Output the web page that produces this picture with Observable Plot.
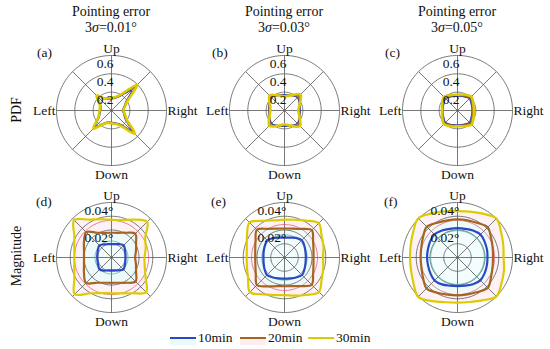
<!DOCTYPE html>
<html><head><meta charset="utf-8">
<script src="https://cdn.jsdelivr.net/npm/d3@7"></script>
<script src="https://cdn.jsdelivr.net/npm/@observablehq/plot@0.6"></script>
<style>
body{margin:0;background:#fff;}
#fig{position:relative;width:550px;height:349px;font-family:"Liberation Serif","Times New Roman",serif;color:#111;overflow:hidden;background:#fff}
.t{position:absolute;white-space:nowrap;line-height:1}
.panel{position:absolute}
.panel svg{overflow:visible}
</style></head><body><div id="fig"></div>
<script>
// ---------- data ----------
const angles = [0,15,30,45,60,75,90,105,120,135,150,165,180,195,210,225,240,255,270,285,300,315,330,345]; // deg, 0 = Right, counter-clockwise
const directionNames = ["Right","Up","Left","Down"];
const directionAngles = [0,90,180,270];
const spokeAngles = [0,45,90,135,180,225,270,315];
const seriesNames = ["10min","20min","30min"];
const seriesColors = ["#2b47c4","#a6641e","#dccb00"];
const seriesFills = ["#f4fdfd","#eefafa","#fef2f6"];
const columnErrors = ["0.01°","0.03°","0.05°"];
const panelLetters = ["(a)","(b)","(c)","(d)","(e)","(f)"];
const rowLabels = ["PDF","Magnitude"];
const pdfRings = [0.2,0.4,0.6];
const pdfTickLabels = ["0.2","0.4","0.6"];
const magRings = [0.01,0.02,0.03,0.04];
const magLabeledRings = [0.02,0.04];
const magTickLabels = ["0.02°","0.04°"];
const refTeal = [0.012,0.0165,0.0195];
const refPink = [0.027,0.024,0.027];

// PDF (top row)
const pdf_a_10 = [0.12,0.14,0.18,0.31,0.18,0.14,0.13,0.13,0.15,0.21,0.14,0.12,0.12,0.13,0.16,0.25,0.16,0.13,0.13,0.14,0.17,0.31,0.17,0.14];
const pdf_a_20 = [0.13,0.15,0.19,0.37,0.19,0.15,0.13,0.14,0.15,0.22,0.15,0.13,0.13,0.14,0.17,0.27,0.17,0.14,0.14,0.15,0.18,0.34,0.18,0.15];
const pdf_a_30 = [0.13,0.15,0.20,0.40,0.20,0.15,0.14,0.14,0.15,0.23,0.15,0.13,0.13,0.14,0.17,0.28,0.17,0.14,0.14,0.15,0.19,0.36,0.19,0.15];
const pdf_b_10 = [0.17,0.175,0.185,0.20,0.185,0.175,0.17,0.175,0.185,0.20,0.185,0.175,0.17,0.175,0.185,0.20,0.185,0.175,0.17,0.175,0.185,0.20,0.185,0.175];
const pdf_b_20 = [0.16,0.17,0.19,0.22,0.19,0.17,0.16,0.17,0.19,0.215,0.19,0.17,0.165,0.17,0.19,0.22,0.19,0.17,0.16,0.17,0.19,0.22,0.19,0.17];
const pdf_b_30 = [0.15,0.165,0.20,0.245,0.20,0.165,0.155,0.165,0.195,0.23,0.19,0.16,0.155,0.165,0.195,0.235,0.20,0.165,0.15,0.165,0.20,0.24,0.195,0.165];
const pdf_c_10 = [0.16,0.162,0.17,0.185,0.17,0.162,0.158,0.162,0.17,0.185,0.17,0.162,0.16,0.163,0.172,0.187,0.172,0.162,0.158,0.162,0.17,0.185,0.17,0.162];
const pdf_c_20 = [0.165,0.17,0.18,0.20,0.18,0.17,0.165,0.17,0.18,0.20,0.18,0.17,0.165,0.17,0.18,0.20,0.18,0.17,0.165,0.17,0.18,0.20,0.18,0.17];
const pdf_c_30 = [0.18,0.182,0.195,0.215,0.195,0.18,0.172,0.177,0.19,0.21,0.19,0.175,0.168,0.175,0.19,0.212,0.195,0.18,0.172,0.178,0.195,0.218,0.198,0.185];

// Magnitude (bottom row), degrees
const mag_d_10 = [0.0102,0.0105,0.0113,0.0125,0.0112,0.0101,0.0097,0.0100,0.0110,0.0124,0.0114,0.0106,0.0104,0.0105,0.0112,0.0122,0.0110,0.0097,0.0093,0.0097,0.0108,0.0122,0.0112,0.0104];
const mag_d_20 = [0.0172,0.0184,0.0206,0.0245,0.0208,0.0186,0.0180,0.0186,0.0208,0.0260,0.0231,0.0207,0.0200,0.0207,0.0231,0.0262,0.0212,0.0190,0.0184,0.0190,0.0212,0.0248,0.0206,0.0184];
const mag_d_30 = [0.0240,0.0258,0.0283,0.0367,0.0318,0.0282,0.0275,0.0288,0.0318,0.0385,0.0312,0.0280,0.0270,0.0280,0.0312,0.0378,0.0300,0.0268,0.0260,0.0270,0.0300,0.0357,0.0286,0.0250];
const mag_e_10 = [0.0155,0.0158,0.0167,0.0178,0.0165,0.0150,0.0145,0.0150,0.0163,0.0177,0.0166,0.0157,0.0153,0.0157,0.0168,0.0180,0.0168,0.0157,0.0153,0.0157,0.0168,0.0180,0.0168,0.0158];
const mag_e_20 = [0.0211,0.0218,0.0240,0.0281,0.0240,0.0218,0.0211,0.0218,0.0241,0.0284,0.0243,0.0220,0.0213,0.0219,0.0241,0.0283,0.0242,0.0216,0.0209,0.0216,0.0240,0.0280,0.0240,0.0218];
const mag_e_30 = [0.0280,0.0294,0.0312,0.0352,0.0310,0.0284,0.0275,0.0280,0.0308,0.0360,0.0315,0.0284,0.0275,0.0282,0.0306,0.0356,0.0310,0.0283,0.0274,0.0287,0.0315,0.0354,0.0312,0.0292];
const mag_f_10 = [0.0218,0.0222,0.0228,0.0236,0.0226,0.0216,0.0213,0.0216,0.0226,0.0238,0.0230,0.0223,0.0221,0.0222,0.0228,0.0236,0.0226,0.0212,0.0208,0.0212,0.0224,0.0235,0.0228,0.0221];
const mag_f_20 = [0.0258,0.0265,0.0282,0.0310,0.0290,0.0280,0.0278,0.0280,0.0292,0.0316,0.0290,0.0273,0.0268,0.0272,0.0290,0.0318,0.0296,0.0280,0.0276,0.0278,0.0290,0.0312,0.0282,0.0264];
const mag_f_30 = [0.0335,0.0345,0.0366,0.0400,0.0368,0.0345,0.0337,0.0348,0.0370,0.0403,0.0372,0.0352,0.0345,0.0350,0.0370,0.0405,0.0366,0.0337,0.0328,0.0335,0.0360,0.0400,0.0370,0.0350];

// ---------- layout ----------
const colX = [111, 284, 457];
const rowY = [110, 257];
const rows = [
  {max: 0.6, rings: pdfRings, labeled: pdfRings, labels: pdfTickLabels, widths: [1.6,1.8,2.6], fills: false, refs: false},
  {max: 0.04, rings: magRings, labeled: magLabeledRings, labels: magTickLabels, widths: [2.2,2.2,2.2], fills: true, refs: true}
];
const panelSeries = [
  [pdf_a_10,pdf_a_20,pdf_a_30],[pdf_b_10,pdf_b_20,pdf_b_30],[pdf_c_10,pdf_c_20,pdf_c_30],
  [mag_d_10,mag_d_20,mag_d_30],[mag_e_10,mag_e_20,mag_e_30],[mag_f_10,mag_f_20,mag_f_30]
];
// label placement per direction (anchor, dx, dy)
const dirStyle = {
  Right: {textAnchor: "start", dx: 1, dy: 0},
  Up: {textAnchor: "middle", dx: 0, dy: -7},
  Left: {textAnchor: "end", dx: -1, dy: 0},
  Down: {textAnchor: "middle", dx: 0, dy: 9}
};

const fig = document.getElementById("fig");
function addText(html, x, y, opts = {}) {
  const d = document.createElement("div");
  d.className = "t";
  d.innerHTML = html;
  d.style.left = x + "px";
  d.style.top = y + "px";
  d.style.fontSize = (opts.size || 13.5) + "px";
  d.style.transform = opts.transform || "translate(-50%,-50%)";
  fig.appendChild(d);
  return d;
}

const GEO = 45; // outer ring angular radius on the sphere
function makePanel(k) {
  const row = rows[Math.floor(k / 3)], col = k % 3, ri = Math.floor(k / 3);
  const toGeo = v => v / row.max * GEO;
  const lat = v => 90 - toGeo(v);
  const lon = a => a + 90;
  const circle = v => d3.geoCircle().center([0, 90]).radius(toGeo(v)).precision(2)();
  const series = panelSeries[k];
  const marks = [];
  if (row.fills) {
    [2, 1, 0].forEach(s => {
      marks.push(Plot.line(angles.map((a, i) => ({a, r: series[s][i]})), {
        x: d => lon(d.a), y: d => lat(d.r), curve: "catmull-rom-closed",
        fill: seriesFills[s], stroke: "none"
      }));
    });
  }
  marks.push(Plot.geo(row.rings, {geometry: circle, stroke: "#555", strokeWidth: 0.8, fill: "none"}));
  marks.push(Plot.link(spokeAngles, {x1: a => lon(a), y1: 90, x2: a => lon(a), y2: lat(row.max), stroke: "#555", strokeWidth: 0.8}));
  if (row.refs) {
    marks.push(Plot.geo([refTeal[col]], {geometry: circle, stroke: "#3fb7a4", strokeWidth: 0.8, fill: "none"}));
    marks.push(Plot.geo([refPink[col]], {geometry: circle, stroke: "#e0607e", strokeWidth: 0.8, fill: "none"}));
  }
  [0, 1, 2].forEach(s => {
    marks.push(Plot.line(angles.map((a, i) => ({a, r: series[s][i]})), {
      x: d => lon(d.a), y: d => lat(d.r), curve: "catmull-rom-closed",
      stroke: seriesColors[s], strokeWidth: row.widths[s], fill: "none"
    }));
  });
  marks.push(Plot.text(row.labeled, {
    x: lon(90), y: v => lat(v), text: (v, i) => row.labels[i],
    textAnchor: "end", dx: 2, dy: 8, fill: "#111", fontSize: 13.5
  }));
  directionNames.forEach((name, i) => {
    marks.push(Plot.text([name], {
      x: lon(directionAngles[i]), y: lat(row.max), text: d => d,
      ...dirStyle[name], fill: "#111", fontSize: 13.5
    }));
  });
  const svg = Plot.plot({
    width: 174, height: 140,
    marginLeft: 32, marginRight: 32, marginTop: 15, marginBottom: 15,
    projection: {type: "azimuthal-equidistant", rotate: [0, -90], domain: circle(row.max), clip: false},
    style: {fontFamily: "Liberation Serif, Times New Roman, serif", fontSize: "13.5px", background: "transparent", color: "#111"},
    marks
  });
  const wrap = document.createElement("div");
  wrap.className = "panel";
  wrap.style.left = (colX[col] - 87) + "px";
  wrap.style.top = (rowY[ri] - 70) + "px";
  wrap.appendChild(svg);
  fig.appendChild(wrap);
}
for (let k = 0; k < 6; k++) makePanel(k);

// column titles
columnErrors.forEach((e, c) => {
  addText("Pointing error", colX[c], 12, {size: 14});
  addText("3<i>σ</i>=" + e, colX[c], 28, {size: 14});
});
// panel letters
const letterX = [37, 212, 385];
panelLetters.forEach((l, k) => {
  const c = k % 3, r = Math.floor(k / 3);
  addText(l, letterX[c] - (r ? 1 : 0), r ? 202 : 53, {size: 13.5, transform: "translate(0,-50%)"});
});
// row labels
addText(rowLabels[0], 17, 110, {size: 14, transform: "translate(-50%,-50%) rotate(-90deg)"});
addText(rowLabels[1], 17, 256, {size: 14, transform: "translate(-50%,-50%) rotate(-90deg)"});

// legend
const legX = [170, 240, 308];
seriesNames.forEach((n, s) => {
  if (s < 2) {
    const p = document.createElement("div");
    p.style.cssText = `position:absolute;left:${legX[s]}px;top:338px;width:26px;height:7px;background:${s === 0 ? "#eafbfb" : "#fdeef3"}`;
    fig.appendChild(p);
  }
  const l = document.createElement("div");
  l.style.cssText = `position:absolute;left:${legX[s]}px;top:337px;width:26px;height:2px;background:${seriesColors[s]}`;
  fig.appendChild(l);
  addText(n, legX[s] + 28, 338, {size: 13.5, transform: "translate(0,-50%)"});
});
</script>
</body></html>
